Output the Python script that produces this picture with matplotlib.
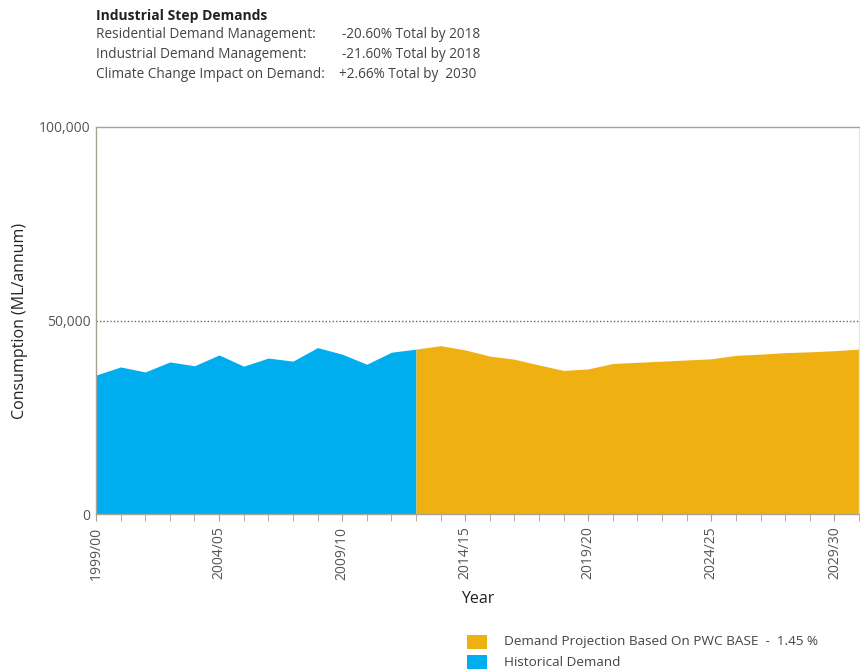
import numpy as np
import matplotlib.pyplot as plt
from matplotlib.patches import Rectangle

plt.rcParams['font.family'] = ['Open Sans', 'DejaVu Sans']

# data
years_hist = list(range(0, 14))
hist = [35.9, 38.0, 36.7, 39.3, 38.3, 41.1, 38.2, 40.3, 39.5, 43.0, 41.3, 38.7, 41.8, 42.6]
years_proj = list(range(13, 32))
proj = [42.6, 43.5, 42.4, 40.8, 40.0, 38.5, 37.1, 37.5, 38.9, 39.2, 39.5, 39.8, 40.1,
        41.0, 41.3, 41.7, 41.9, 42.2, 42.6]
tick_labels = ['1999/00', '2004/05', '2009/10', '2014/15', '2019/20', '2024/25', '2029/30']

blue = '#00aeef'
orange = '#efb112'
grey = '#555555'

fig = plt.figure(figsize=(8.6, 6.7), dpi=100)
ax = fig.add_axes([96/860, (670-514)/670, (859-96)/860, (514-127)/670])

ax.fill_between(years_hist, np.array(hist)*1000, 0, color=blue, lw=0)
ax.fill_between(years_proj, np.array(proj)*1000, 0, color=orange, lw=0)
ax.axhline(50000, color='#6b6b4a', ls=(0, (1, 1.5)), lw=1)

ax.set_xlim(0, 31)
ax.set_ylim(0, 100000)
ax.set_yticks([0, 50000, 100000])
ax.set_yticklabels(['0', '50,000', '100,000'])
ax.set_xticks(range(0, 31, 5))
ax.set_xticklabels(tick_labels, rotation=90)
ax.set_xticks(range(0, 32), minor=True)
ax.tick_params(axis='x', which='both', length=5, color='#a8a196', labelsize=10,
               labelcolor=grey, pad=4)
ax.tick_params(axis='y', length=0, labelsize=10, labelcolor=grey, pad=4)
for s in ax.spines.values():
    s.set_color('#a8a196')
    s.set_linewidth(1)
ax.spines['right'].set_color('#e6e6e6')

ax.set_ylabel('Consumption (ML/annum)', fontsize=11.5, color='#222222', labelpad=8)
ax.set_xlabel('Year', fontsize=11.5, color='#222222', labelpad=8)

# header text
fig.text(96/860, 1-16/670, 'Industrial Step Demands', fontsize=10, fontweight='bold',
         color='#222222', va='center')
rows = [('Residential Demand Management:', '-20.60% Total by 2018'),
        ('Industrial Demand Management:', '-21.60% Total by 2018'),
        ('Climate Change Impact on Demand:', '+2.66% Total by  2030')]
for i, (lab, val) in enumerate(rows):
    y = 1 - (35 + i*19.5)/670
    fig.text(96/860, y, lab, fontsize=9.8, color='#444444', va='center')
    fig.text((342 if i < 2 else 339)/860, y, val, fontsize=9.8, color='#444444', va='center')

# legend
leg = [(orange, 'Demand Projection Based On PWC BASE  -  1.45 %'),
       (blue, 'Historical Demand')]
for i, (c, lab) in enumerate(leg):
    yc = 642 + i*20
    fig.patches.append(Rectangle((467/860, 1-(yc+7)/670), 20/860, 14/670,
                                 transform=fig.transFigure, color=c, lw=0))
    fig.text(504/860, 1-yc/670, lab, fontsize=9.7, color='#444444', va='center')

fig.savefig('out.png', dpi=100)
